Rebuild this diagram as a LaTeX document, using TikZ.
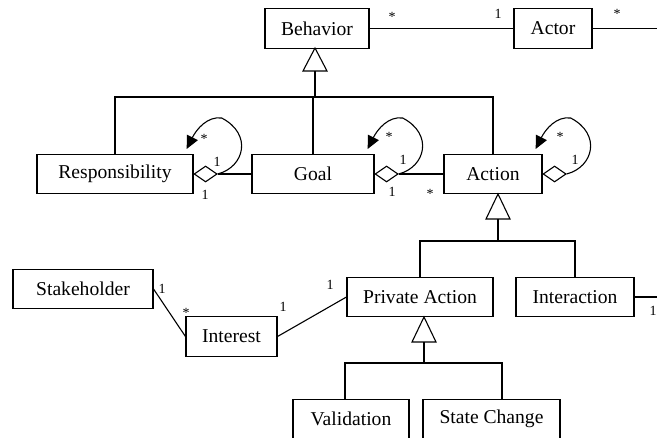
\documentclass[tikz,border=0pt]{standalone}
\usepackage{fontspec}
\setmainfont{Liberation Serif}
\newfontfamily\tmsfont{Liberation Serif}
\usetikzlibrary{shapes.geometric,arrows.meta,calc}
\tikzset{
  box/.style={draw, line width=1.1pt, inner sep=0pt, minimum height=39.5pt, font=\tmsfont\fontsize{19.6}{22}\selectfont},
  dia/.style={draw, line width=1.1pt, diamond, inner sep=0pt, minimum width=23pt, minimum height=16pt, anchor=west, fill=white},
  conn/.style={line width=1.1pt},
  loopline/.style={line width=1.1pt, -{Triangle[length=13pt,width=12pt]}},
  gen/.style={draw, line width=1.1pt, fill=white},
  lbl/.style={inner sep=0pt, font=\tmsfont\fontsize{14}{16}\selectfont}
}
\newcommand{\selfloop}[1]{%
  \draw[loopline] (#1.east) .. controls ($(#1.east)+(27,-7)$) and ($(#1.east)+(35,-40)$) ..
    ($(#1.east)+(4,-56)$) .. controls ($(#1.east)+(-10,-58)$) and ($(#1.east)+(-21,-45)$) ..
    ($(#1.east)+(-31,-25)$);}
\begin{document}
\begin{tikzpicture}[x=1pt,y=-1pt]
\useasboundingbox (0,0) rectangle (657,438);
\clip (0,0) rectangle (657,438);
% boxes
\node[box, minimum width=104pt] (beh) at (317,28.5) {Behavior};
\node[box, minimum width=78pt] (act0) at (553,28.5) {Actor};
\node[box, minimum width=156pt] (resp) at (115,174) {Responsibility};
\node[box, minimum width=122pt] (goal) at (313,174) {Goal};
\node[box, minimum width=98pt] (act) at (493,174) {Action};
\node[box, minimum width=140pt] (stake) at (83,289) {Stakeholder};
\node[box, minimum width=91pt] (inter) at (231.5,336.5) {Interest};
\node[box, minimum width=146pt] (priv) at (420,297) {Private Action};
\node[box, minimum width=118pt] (interac) at (575,297) {Interaction};
\node[box, minimum width=116pt] (valid) at (351,419) {Validation};
\node[box, minimum width=137pt] (state) at (491.5,419) {State Change};
% free ends on the right
\coordinate (actorend) at (662,28.5);
\coordinate (interacend) at (662,297);
% associations
\draw[conn] (beh.east) -- (act0.west);
\draw[conn] (act0.east) -- (actorend);
\draw[conn] (interac.east) -- (interacend);
\draw[conn] (stake.east) -- (inter.west);
\draw[conn] (inter.east) -- (priv.west);
% aggregation diamonds
\node[dia] (rd) at (resp.east) {};
\node[dia] (gd) at (goal.east) {};
\node[dia] (ad) at (act.east) {};
\draw[conn] (rd.east) -- (goal.west |- rd.east);
\draw[conn] (gd.east) -- (act.west |- gd.east);
\selfloop{rd}
\selfloop{gd}
\selfloop{ad}
% generalization Behavior
\coordinate (t1) at (315,71);
\coordinate (b1) at (315,97);
\draw[conn] (t1) -- (b1);
\draw[conn] (resp.north) |- (b1);
\draw[conn] (act.north) |- (b1);
\draw[conn] (goal.north) -- (goal.north |- b1);
\draw[gen] (315,48) -- (303,71) -- (327,71) -- cycle;
% generalization Action
\coordinate (t2) at (498,219);
\coordinate (b2) at (498,241);
\draw[conn] (t2) -- (b2);
\draw[conn] (priv.north) |- (b2);
\draw[conn] (interac.north) |- (b2);
\draw[gen] (498,194) -- (486,219) -- (510,219) -- cycle;
% generalization Private Action
\coordinate (t3) at (424,342);
\coordinate (b3) at (424,363);
\draw[conn] (t3) -- (b3);
\draw[conn] ($(valid.north)+(-6,0)$) |- (b3);
\draw[conn] ($(state.north)+(10.5,0)$) |- (b3);
\draw[gen] (424,317) -- (412,342) -- (436,342) -- cycle;
% multiplicities
\node[lbl] (m1) at (392,17) {*};
\node[lbl] (m2) at (498,14) {1};
\node[lbl] (m3) at (617,14) {*};
\node[lbl] (m4) at (204,139) {*};
\node[lbl] (m5) at (217,162) {1};
\node[lbl] (m6) at (205,195) {1};
\node[lbl] (m7) at (389,137) {*};
\node[lbl] (m8) at (403,160) {1};
\node[lbl] (m9) at (392,192) {1};
\node[lbl] (m10) at (430,194) {*};
\node[lbl] (m11) at (560,137) {*};
\node[lbl] (m12) at (575,160) {1};
\node[lbl] (m13) at (653,311) {1};
\node[lbl] (m14) at (162,289) {1};
\node[lbl] (m15) at (186,313) {*};
\node[lbl] (m16) at (283,307) {1};
\node[lbl] (m17) at (330,285) {1};
\end{tikzpicture}
\end{document}
